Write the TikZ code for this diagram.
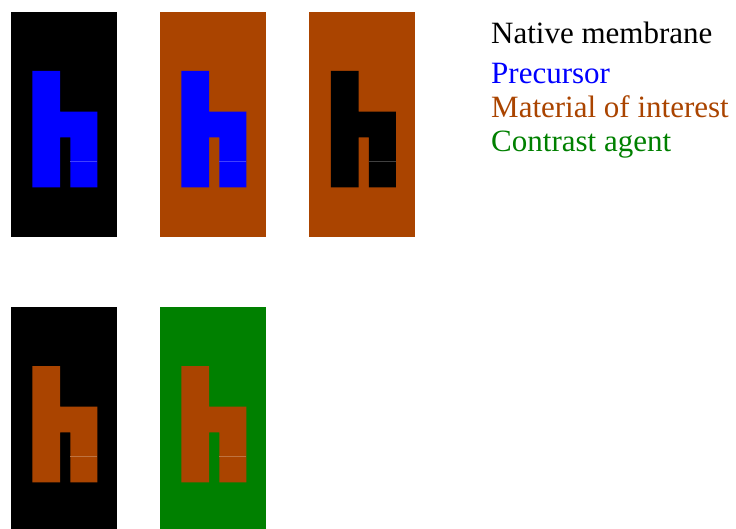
\documentclass[tikz,border=0pt]{standalone}
\usepackage{fontspec}
\setmainfont{Liberation Serif}
\definecolor{cblue}{HTML}{0000FF}
\definecolor{cbrown}{HTML}{AA4400}
\definecolor{cgreen}{HTML}{008000}
\tikzset{
  every picture/.style={x=1pt, y=-1pt},
  layer/.style={fill=#1},
  seam/.style={draw=#1!75!white, line width=0.6pt},
  legend/.style={font=\fontsize{31}{31}\selectfont, text=#1, anchor=base west, inner sep=0pt},
}

\begin{document}
\begin{tikzpicture}
  \useasboundingbox (0,0) rectangle (736,529);
  % one panel: \hpanel{x offset}{y offset}{membrane colour}{h colour}
  \newcommand{\hpanel}[4]{%
    \begin{scope}[shift={(#1,#2)}]
      \fill[layer=#3] (10.7,12) rectangle (116.7,236.7);
      \fill[layer=#4] (32.3,71) -| (60,111.7) -| (97.3,187.3) -| (70.3,137.3)
        -| (60,187.3) -- (32.3,187.3) -- cycle;
      \draw[seam=#4] (70.3,161) -- (97.3,161);
    \end{scope}}
  \hpanel{0}{0}{black}{cblue}
  \hpanel{149}{0}{cbrown}{cblue}
  \hpanel{298.5}{0}{cbrown}{black}
  \hpanel{0}{295}{black}{cbrown}
  \hpanel{149}{295}{cgreen}{cbrown}
  \node[legend=black] (native) at (491,44) {Native membrane};
  \node[legend=cblue] (precursor) at (491,84) {Precursor};
  \node[legend=cbrown] (material) at (491,117.5) {Material of interest};
  \node[legend=cgreen] (contrast) at (491,151.5) {Contrast agent};
\end{tikzpicture}
\end{document}
